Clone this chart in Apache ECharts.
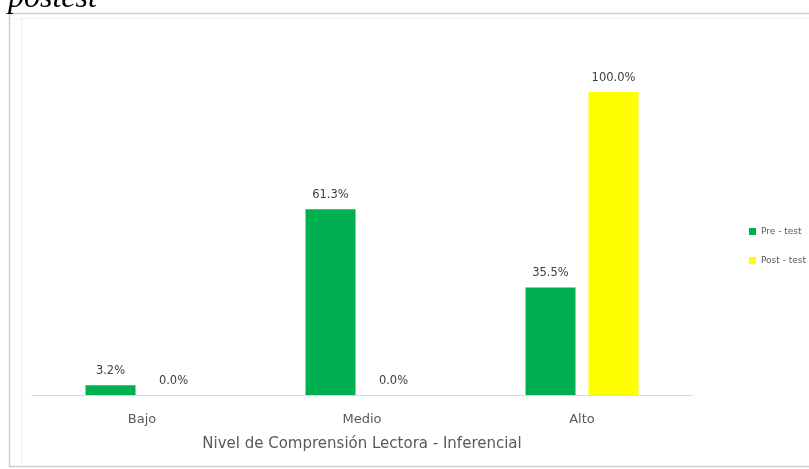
<!DOCTYPE html>
<html>
<head>
<meta charset="utf-8">
<script src="https://cdn.jsdelivr.net/npm/echarts@6/dist/echarts.min.js"></script>
<style>html,body{margin:0;padding:0;background:#fff;}#c{width:809px;height:469px;}</style>
</head>
<body>
<div id="c"></div>
<script>
var categories = ['Bajo', 'Medio', 'Alto'];
var preTest = [3.2, 61.3, 35.5];
var postTest = [0.0, 0.0, 100.0];
var seriesNames = ['Pre - test', 'Post - test'];
var axisTitle = 'Nivel de Comprensión Lectora - Inferencial';
var headingText = 'postest';

var chart = echarts.init(document.getElementById('c'));
var labelStyle = {
  show: true, position: 'top', distance: 8,
  formatter: function (p) { return p.value.toFixed(1) + '%'; },
  fontFamily: 'DejaVu Sans', fontSize: 11.5, color: '#404040'
};
chart.setOption({
  animation: false,
  backgroundColor: '#fff',
  graphic: [
    { type: 'rect', shape: { x: 9.5, y: 13.5, width: 820, height: 453 }, style: { fill: 'none', stroke: '#cfcfcf', lineWidth: 1.5 } },
    { type: 'line', shape: { x1: 21.5, y1: 19, x2: 21.5, y2: 466 }, style: { stroke: '#f0f0f0', lineWidth: 1 } },
    { type: 'line', shape: { x1: 10, y1: 18.5, x2: 809, y2: 18.5 }, style: { stroke: '#f3f3f3', lineWidth: 1 } },
    { type: 'text', left: 8, top: -17, style: { text: headingText, font: 'italic 32px "Liberation Serif"', fill: '#000' } }
  ],
  legend: {
    orient: 'vertical', left: 744, top: 222, itemWidth: 7, itemHeight: 7, itemGap: 20,
    icon: 'rect', data: seriesNames,
    textStyle: { fontFamily: 'DejaVu Sans', fontSize: 9, color: '#595959' }
  },
  grid: { left: 32, right: 117, top: 92, bottom: 74 },
  xAxis: {
    type: 'category', data: categories,
    axisLine: { lineStyle: { color: '#d9d9d9', width: 1 } },
    axisTick: { show: false },
    axisLabel: { fontFamily: 'DejaVu Sans', fontSize: 13, color: '#595959', margin: 18 },
    name: axisTitle, nameLocation: 'middle', nameGap: 42,
    nameTextStyle: { fontFamily: 'DejaVu Sans', fontSize: 15, color: '#595959' }
  },
  yAxis: { type: 'value', min: 0, max: 100, show: false, splitLine: { show: false } },
  series: [
    { name: seriesNames[0], type: 'bar', data: preTest, barWidth: 50, barGap: '26%', itemStyle: { color: '#00B050' }, label: labelStyle },
    { name: seriesNames[1], type: 'bar', data: postTest, barWidth: 50, barGap: '26%', itemStyle: { color: '#FFFF00' }, label: labelStyle }
  ]
});
</script>
</body>
</html>
